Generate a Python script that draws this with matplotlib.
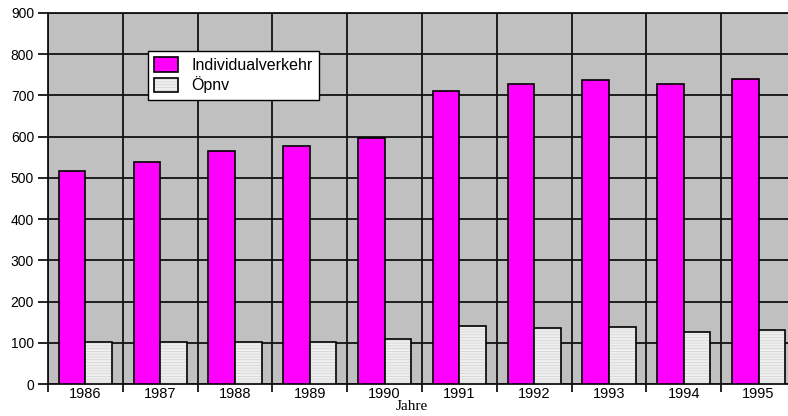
import matplotlib
matplotlib.use("Agg")
import matplotlib.pyplot as plt
import numpy as np

years = ["1986", "1987", "1988", "1989", "1990", "1991", "1992", "1993", "1994", "1995"]
individualverkehr = [517, 539, 565, 578, 597, 711, 727, 738, 727, 740]
oepnv = [102, 102, 102, 102, 109, 140, 136, 139, 127, 130]
y_ticks = [0, 100, 200, 300, 400, 500, 600, 700, 800, 900]

plt.rcParams["font.family"] = ["Liberation Sans", "DejaVu Sans"]
plt.rcParams["hatch.linewidth"] = 0.5

W, H = 788, 416
fig = plt.figure(figsize=(W / 100, H / 100), dpi=100)
fig.patch.set_facecolor("white")
ax = fig.add_axes([48 / W, (H - 384) / H, (796 - 48) / W, (384 - 13) / H])
ax.set_facecolor("#c0c0c0")

x = np.arange(len(years))
bw = 0.355
ind = ax.bar(x - bw / 2, individualverkehr, bw, color="#ff00ff", edgecolor="black",
             linewidth=1.2, zorder=3)
# light fill with a faint line pattern, then a black outline on top
fill = ax.bar(x + bw / 2, oepnv, bw, color="#efefef", edgecolor="#d2d2d2",
              linewidth=0, hatch="------", zorder=3)
outline = ax.bar(x + bw / 2, oepnv, bw, fill=False, edgecolor="black",
                 linewidth=1.2, zorder=4)

ax.set_xlim(-0.5, len(years) - 0.5)
ax.set_ylim(0, 900)
ax.set_yticks(y_ticks)
ax.set_yticklabels([str(v) for v in y_ticks], fontsize=10)
ax.set_xticks(x)
ax.set_xticklabels(years, fontsize=10.5)
ax.set_xticks(np.arange(len(years) + 1) - 0.5, minor=True)
ax.tick_params(axis="x", which="major", length=0, pad=2)
ax.tick_params(axis="x", which="minor", length=6, width=1.2, direction="out")
ax.tick_params(axis="y", length=7, width=1.2, direction="out", pad=3)

# category boundaries and value grid
ax.grid(True, axis="y", which="major", color="#111111", linewidth=1.3, zorder=1)
ax.grid(True, axis="x", which="minor", color="#111111", linewidth=1.3, zorder=1)
ax.set_axisbelow(True)
for s in ax.spines.values():
    s.set_color("#111111")
    s.set_linewidth(1.3)

fig.text(412 / W, 1 - 407 / H, "Jahre", ha="center", va="center", fontsize=11,
         family=["Liberation Serif", "DejaVu Serif"])

leg = ax.legend([ind, (fill, outline)], ["Individualverkehr", "Öpnv"],
                loc="upper left", bbox_to_anchor=((148 - 48) / 748, (384 - 51) / 371),
                frameon=True, fancybox=False, framealpha=1, edgecolor="black",
                fontsize=11.5, handlelength=1.5, handleheight=1.0, borderpad=0.4,
                labelspacing=0.2, handletextpad=0.8, borderaxespad=0)
leg.get_frame().set_linewidth(1.0)

fig.savefig("out.png", dpi=100)
